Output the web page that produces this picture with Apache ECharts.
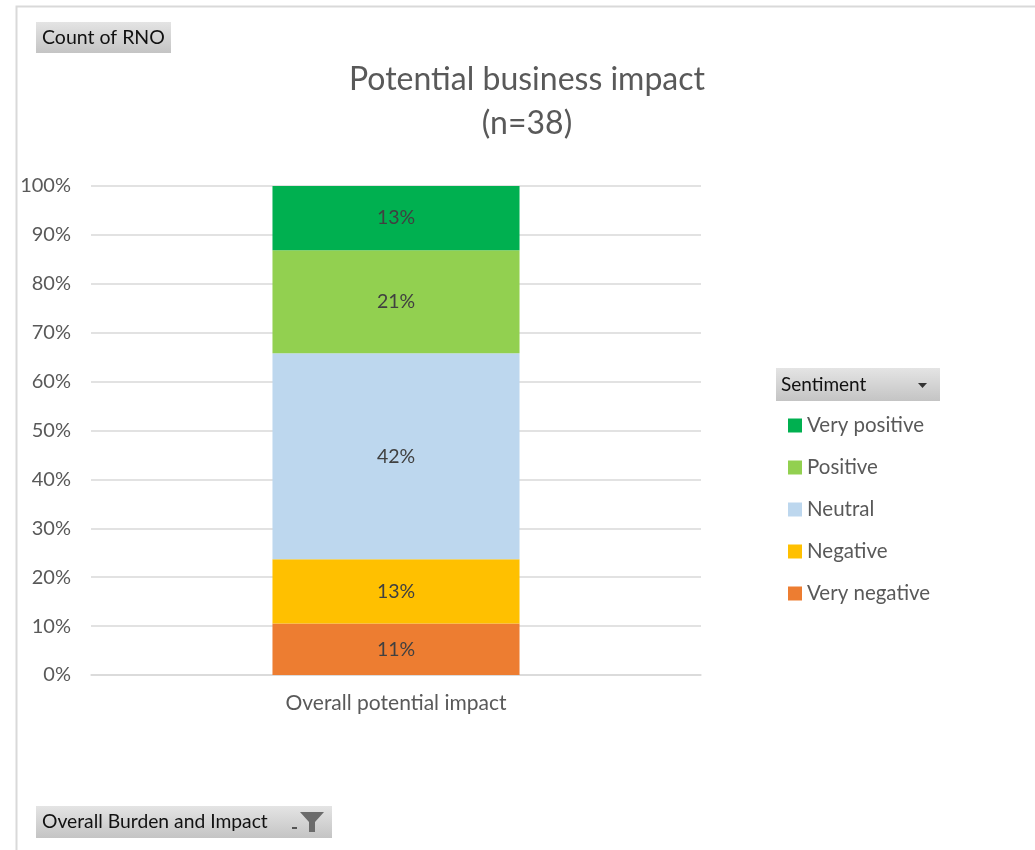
<!DOCTYPE html>
<html><head><meta charset="utf-8">
<script src="https://cdn.jsdelivr.net/npm/echarts@6/dist/echarts.min.js"></script>
<style>html,body{margin:0;padding:0;background:#fff}#c{width:1035px;height:850px}</style>
</head><body><div id="c"></div>
<script>
const categories = ["Overall potential impact"];
const seriesNames = ["Very negative", "Negative", "Neutral", "Positive", "Very positive"];
const counts = [4, 5, 16, 8, 5];          // n = 38
const colors = ["#ED7D31", "#FFC000", "#BDD7EE", "#92D050", "#00B050"];
const yTicks = [0, 0.1, 0.2, 0.3, 0.4, 0.5, 0.6, 0.7, 0.8, 0.9, 1.0];
const total = counts.reduce((a, b) => a + b, 0);

const font = "Lato, 'Open Sans', sans-serif";
const chart = echarts.init(document.getElementById('c'));
const btnFill = new echarts.graphic.LinearGradient(0, 0, 0, 1, [
  {offset: 0, color: '#e4e4e4'}, {offset: 1, color: '#c4c4c4'}]);
chart.setOption({
  backgroundColor: '#fff',
  animation: false,
  title: {
    text: 'Potential business impact\n(n=38)',
    left: 522, top: 53, textAlign: 'center',
    textStyle: {fontFamily: font, fontSize: 32, fontWeight: 'normal', color: '#595959', lineHeight: 44}
  },
  grid: {left: 91, right: 334, top: 186, bottom: 175},
  legend: {
    orient: 'vertical', left: 783, top: 410,
    data: seriesNames.slice().reverse(),
    itemWidth: 14, itemHeight: 14, itemGap: 21, icon: 'rect',
    textStyle: {fontFamily: font, fontSize: 20.5, lineHeight: 20, color: '#595959'},
    selectedMode: false
  },
  xAxis: {
    type: 'category', data: categories,
    axisLine: {show: true, lineStyle: {color: '#d9d9d9', width: 1.5}},
    axisTick: {show: false},
    axisLabel: {fontFamily: font, fontSize: 21, color: '#595959', margin: 18}
  },
  yAxis: {
    type: 'value', min: 0, max: 1, interval: 0.1,
    axisLine: {show: false}, axisTick: {show: false},
    splitLine: {lineStyle: {color: '#d9d9d9', width: 1.5}},
    axisLabel: {fontFamily: font, fontSize: 20, color: '#595959', margin: 20,
      formatter: v => Math.round(v * 100) + '%'}
  },
  series: seriesNames.map((name, i) => ({
    name, type: 'bar', stack: 'total', barWidth: '40.5%',
    itemStyle: {color: colors[i]},
    label: {show: true, position: 'inside', fontFamily: font, fontSize: 19.5, color: '#404040',
      formatter: p => Math.round(p.value * 100) + '%'},
    data: [counts[i] / total]
  })),
  graphic: [
    {type: 'polyline', shape: {points: [[16.5, 850], [16.5, 6.5], [1035, 6.5]]}, style: {stroke: '#d9d9d9', lineWidth: 2, fill: null}, z: 0},
    {type: 'group', left: 36, top: 22, children: [
      {type: 'rect', shape: {x: 0, y: 0, width: 135, height: 31}, style: {fill: btnFill}},
      {type: 'text', x: 6, y: 15.5, style: {text: 'Count of RNO', fontFamily: font, fontSize: 19.5, fill: '#111', verticalAlign: 'middle'}}
    ]},
    {type: 'group', left: 776, top: 368, children: [
      {type: 'rect', shape: {x: 0, y: 0, width: 164, height: 33}, style: {fill: btnFill}},
      {type: 'text', x: 5, y: 16.5, style: {text: 'Sentiment', fontFamily: font, fontSize: 19, fill: '#111', verticalAlign: 'middle'}},
      {type: 'polygon', shape: {points: [[142, 15], [151, 15], [146.5, 20]]}, style: {fill: '#333'}}
    ]},
    {type: 'group', left: 36, top: 806, children: [
      {type: 'rect', shape: {x: 0, y: 0, width: 296, height: 32}, style: {fill: btnFill}},
      {type: 'text', x: 6, y: 16, style: {text: 'Overall Burden and Impact', fontFamily: font, fontSize: 19.3, fill: '#111', verticalAlign: 'middle'}},
      {type: 'rect', shape: {x: 256, y: 21, width: 5, height: 2}, style: {fill: '#555'}},
      {type: 'polygon', shape: {points: [[264, 6], [288, 6], [279, 16], [279, 26], [273, 26], [273, 16]]}, style: {fill: '#6b6b6b'}}
    ]}
  ]
});
</script></body></html>
